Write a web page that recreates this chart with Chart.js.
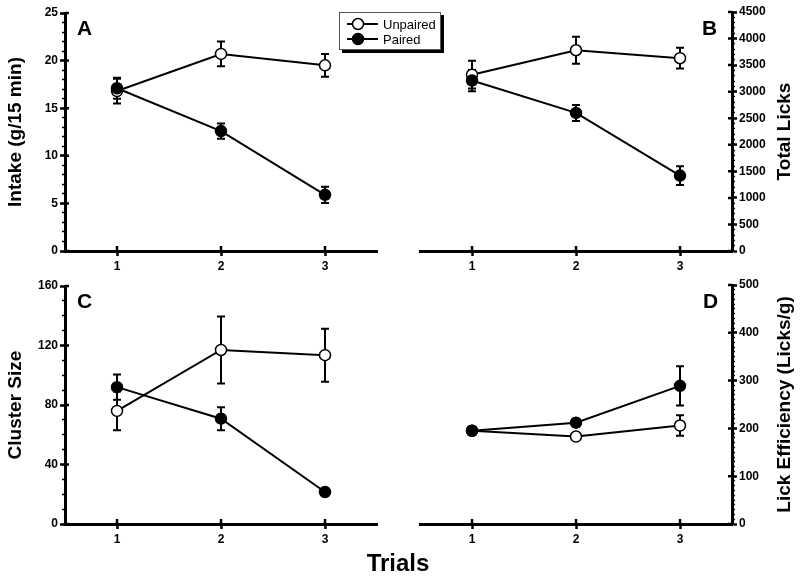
<!DOCTYPE html>
<html>
<head>
<meta charset="utf-8">
<script src="https://cdn.jsdelivr.net/npm/chart.js@4.4.0/dist/chart.umd.min.js"></script>
<style>
  body { margin: 0; background: #fff; }
  #wrap { position: relative; width: 800px; height: 579px; }
  #wrap canvas { position: absolute; left: 0; top: 0; }
</style>
</head>
<body>
<div id="wrap">
  <canvas id="panelA" width="800" height="579"></canvas>
  <canvas id="panelB" width="800" height="579"></canvas>
  <canvas id="panelC" width="800" height="579"></canvas>
  <canvas id="panelD" width="800" height="579"></canvas>
</div>
<script>
const trials = ['1', '2', '3'];

// A - intake
const intakeUnpaired = [16.8, 20.7, 19.5];
const intakeUnpairedErr = [1.3, 1.3, 1.2];
const intakePaired = [17.1, 12.6, 5.9];
const intakePairedErr = [1.1, 0.8, 0.85];

// B - total licks
const licksUnpaired = [3320, 3780, 3630];
const licksUnpairedErr = [260, 255, 195];
const licksPaired = [3210, 2600, 1420];
const licksPairedErr = [200, 150, 175];

// C - cluster size
const clusterUnpaired = [76, 117, 113.5];
const clusterUnpairedErr = [13, 22.5, 17.8];
const clusterPaired = [92, 70.8, 21.5];
const clusterPairedErr = [8.5, 7.7, 2];

// D - lick efficiency
const efficiencyUnpaired = [195, 183, 206];
const efficiencyUnpairedErr = [6, 5, 21.5];
const efficiencyPaired = [195, 212, 289];
const efficiencyPairedErr = [8, 8, 41];

Chart.defaults.font.family = '"Liberation Sans", Arial, sans-serif';
Chart.defaults.color = '#000';

const FONT = '"Liberation Sans", Arial, sans-serif';

// error bars under the markers
const errorBars = {
  id: 'errorBars',
  beforeDatasetsDraw(chart) {
    const ctx = chart.ctx;
    ctx.save();
    ctx.strokeStyle = '#000';
    ctx.lineWidth = 2;
    chart.data.datasets.forEach((ds, i) => {
      const meta = chart.getDatasetMeta(i);
      const ys = chart.scales[meta.yAxisID];
      meta.data.forEach((pt, j) => {
        const v = ds.data[j], e = ds.err[j];
        const top = ys.getPixelForValue(v + e);
        const bot = ys.getPixelForValue(v - e);
        ctx.beginPath();
        ctx.moveTo(pt.x, top); ctx.lineTo(pt.x, bot);
        ctx.moveTo(pt.x - 4, top); ctx.lineTo(pt.x + 4, top);
        ctx.moveTo(pt.x - 4, bot); ctx.lineTo(pt.x + 4, bot);
        ctx.stroke();
      });
    });
    ctx.restore();
  }
};

// major ticks cross the axis line, draw the inner half
const crossTicks = {
  id: 'crossTicks',
  afterDraw(chart) {
    const ctx = chart.ctx;
    const {x, y} = chart.scales;
    const area = chart.chartArea;
    ctx.save();
    ctx.strokeStyle = '#000';
    ctx.lineWidth = 2.5;
    ctx.beginPath();
    y.ticks.forEach(t => {
      const py = y.getPixelForValue(t.value);
      if (y.position === 'left') { ctx.moveTo(area.left, py); ctx.lineTo(area.left + 4, py); }
      else { ctx.moveTo(area.right, py); ctx.lineTo(area.right - 4, py); }
    });
    x.ticks.forEach((t, i) => {
      const px = x.getPixelForTick(i);
      ctx.moveTo(px, area.bottom); ctx.lineTo(px, area.bottom - 5);
    });
    ctx.stroke();
    ctx.restore();
  }
};

const panelText = {
  id: 'panelText',
  afterDraw(chart, args, opts) {
    const ctx = chart.ctx;
    const area = chart.chartArea;
    ctx.save();
    ctx.fillStyle = '#000';
    ctx.textBaseline = 'alphabetic';
    ctx.font = 'bold 21px ' + FONT;
    ctx.textAlign = 'left';
    ctx.fillText(opts.letter, opts.lx, opts.ly);
    if (opts.rightTitle) {
      // right axis title reads bottom to top like the left ones
      ctx.save();
      ctx.translate(785, (area.top + area.bottom) / 2);
      ctx.rotate(-Math.PI / 2);
      ctx.font = 'bold 19px ' + FONT;
      ctx.textAlign = 'center';
      ctx.textBaseline = 'middle';
      ctx.fillText(opts.rightTitle, 0, 0);
      ctx.restore();
    }
    if (opts.footer) {
      ctx.font = 'bold 24px ' + FONT;
      ctx.textAlign = 'center';
      ctx.fillText(opts.footer, 398, 571);
    }
    if (opts.legend) {
      // box with drop shadow
      ctx.fillStyle = '#000';
      ctx.fillRect(342, 15, 102, 38);
      ctx.fillStyle = '#fff';
      ctx.fillRect(339, 12, 102, 38);
      ctx.strokeStyle = '#555';
      ctx.lineWidth = 1;
      ctx.strokeRect(339.5, 12.5, 101, 37);
      const rows = [24, 39];
      chart.data.datasets.forEach((ds, i) => {
        const ry = rows[i];
        ctx.strokeStyle = '#000';
        ctx.lineWidth = 2;
        ctx.beginPath();
        ctx.moveTo(347, ry); ctx.lineTo(378, ry);
        ctx.stroke();
        ctx.beginPath();
        ctx.arc(358, ry, 5.5, 0, Math.PI * 2);
        ctx.fillStyle = ds.pointBackgroundColor;
        ctx.fill();
        ctx.lineWidth = 1.5;
        ctx.stroke();
        ctx.fillStyle = '#000';
        ctx.font = '13px ' + FONT;
        ctx.textAlign = 'left';
        ctx.textBaseline = 'middle';
        ctx.fillText(ds.label, 383, ry + 1);
      });
    }
    ctx.restore();
  }
};

function makePanel(id, p) {
  const side = p.side;
  return new Chart(document.getElementById(id), {
    type: 'line',
    data: {
      labels: trials,
      datasets: [
        {
          label: 'Unpaired', data: p.unpaired, err: p.unpairedErr, order: 1,
          borderColor: '#000', borderWidth: 2, tension: 0,
          pointRadius: 5.5, pointBackgroundColor: '#fff', pointBorderColor: '#000', pointBorderWidth: 1.5
        },
        {
          label: 'Paired', data: p.paired, err: p.pairedErr, order: 0,
          borderColor: '#000', borderWidth: 2, tension: 0,
          pointRadius: 5.5, pointBackgroundColor: '#000', pointBorderColor: '#000', pointBorderWidth: 1.5
        }
      ]
    },
    options: {
      responsive: false,
      animation: false,
      events: [],
      layout: { padding: p.padding },
      plugins: {
        legend: { display: false },
        tooltip: { enabled: false },
        panelText: p.text
      },
      scales: {
        x: {
          type: 'category',
          offset: true,
          grid: { offset: false, drawOnChartArea: false, tickLength: 5, tickWidth: 2.5, tickColor: '#000' },
          border: { width: 3, color: '#000' },
          ticks: { font: { size: 12, weight: 'bold' }, padding: 3 },
          afterFit: s => { s.height = 30; }
        },
        y: {
          position: side,
          weight: 1,
          min: 0, max: p.max,
          grid: { drawOnChartArea: false, tickLength: 5, tickWidth: 2.5, tickColor: '#000' },
          border: { width: 3, color: '#000' },
          ticks: { stepSize: p.step, font: { size: 12, weight: 'bold' }, padding: 2, format: { useGrouping: false } },
          title: { display: side === 'left', text: p.title, font: { size: 19, weight: 'bold' }, padding: { top: 4, bottom: 4 } },
          afterFit: s => { s.width = p.axisWidth; }
        },
        yMinor: {
          position: side,
          weight: 0,
          min: 0, max: p.max,
          grid: { drawOnChartArea: false, tickLength: 3, tickWidth: 1.5, tickColor: '#000' },
          border: { display: false },
          ticks: { stepSize: p.minorStep, display: false, font: { size: 1 } },
          afterFit: s => { s.width = 0; }
        }
      }
    },
    plugins: [errorBars, crossTicks, panelText]
  });
}

makePanel('panelA', {
  side: 'left', max: 25, step: 5, minorStep: 1, title: 'Intake (g/15 min)',
  unpaired: intakeUnpaired, unpairedErr: intakeUnpairedErr,
  paired: intakePaired, pairedErr: intakePairedErr,
  axisWidth: 65, padding: { left: 0, top: 13, right: 423, bottom: 298 },
  text: { letter: 'A', lx: 77, ly: 35, legend: true }
});

makePanel('panelB', {
  side: 'right', max: 4500, step: 500, minorStep: 100, title: 'Total Licks',
  unpaired: licksUnpaired, unpairedErr: licksUnpairedErr,
  paired: licksPaired, pairedErr: licksPairedErr,
  axisWidth: 68, padding: { left: 420, top: 12, right: 0, bottom: 298 },
  text: { letter: 'B', lx: 702, ly: 35, rightTitle: 'Total Licks' }
});

makePanel('panelC', {
  side: 'left', max: 160, step: 40, minorStep: 10, title: 'Cluster Size',
  unpaired: clusterUnpaired, unpairedErr: clusterUnpairedErr,
  paired: clusterPaired, pairedErr: clusterPairedErr,
  axisWidth: 65, padding: { left: 0, top: 286, right: 423, bottom: 25 },
  text: { letter: 'C', lx: 77, ly: 308, footer: 'Trials' }
});

makePanel('panelD', {
  side: 'right', max: 500, step: 100, minorStep: 10, title: 'Lick Efficiency (Licks/g)',
  unpaired: efficiencyUnpaired, unpairedErr: efficiencyUnpairedErr,
  paired: efficiencyPaired, pairedErr: efficiencyPairedErr,
  axisWidth: 68, padding: { left: 420, top: 285, right: 0, bottom: 25 },
  text: { letter: 'D', lx: 703, ly: 308, rightTitle: 'Lick Efficiency (Licks/g)' }
});
</script>
</body>
</html>
